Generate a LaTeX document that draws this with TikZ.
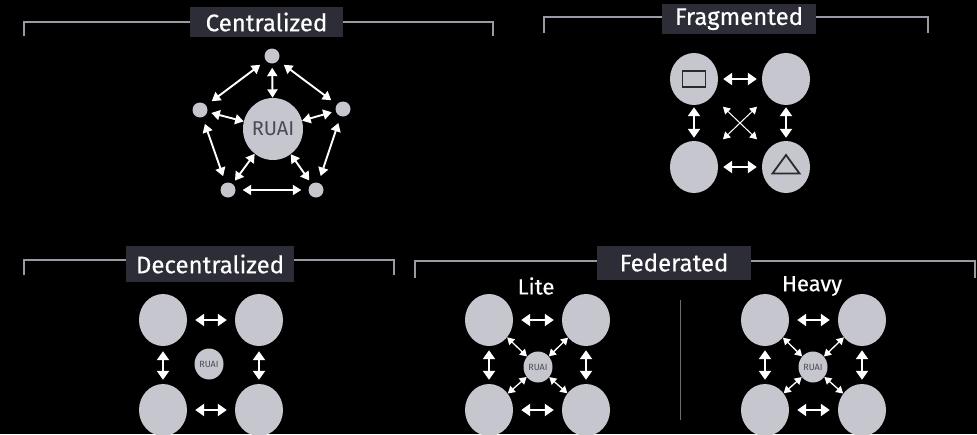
\documentclass[tikz,border=0pt]{standalone}
\usepackage{fontspec}
\setmainfont{Fira Sans}
\newfontfamily\headfont{Fira Sans}[FakeBold=0.4]
\usetikzlibrary{arrows.meta,shapes.geometric}
\definecolor{nodegray}{HTML}{C6C6CE}
\definecolor{tagfill}{HTML}{2D2D38}
\definecolor{rulegray}{HTML}{9A9AA5}
\definecolor{inkdark}{HTML}{2A2A30}
\definecolor{hubtext}{HTML}{4A4A52}
\tikzset{
  bracket/.style={draw=rulegray, line width=1.5pt},
  tag/.style={fill=tagfill, text=white, inner sep=0pt,
    font=\headfont\fontsize{24}{24}\selectfont, minimum height=30pt},
  subtitle/.style={text=white, inner sep=0pt, font=\headfont\fontsize{22}{22}\selectfont},
  peer/.style={ellipse, fill=nodegray, inner sep=0pt, minimum width=48pt, minimum height=52pt},
  dot/.style={circle, fill=nodegray, inner sep=0pt, minimum size=15pt},
  hub/.style={ellipse, fill=nodegray, inner sep=0pt, minimum width=60pt, minimum height=62pt,
    text=hubtext, font=\fontsize{20}{20}\selectfont},
  minihub/.style={ellipse, fill=nodegray, inner sep=0pt, minimum width=29pt, minimum height=31pt,
    text=hubtext, font=\fontsize{9}{9}\selectfont},
  link/.style={draw=white, line width=2.4pt,
    {Triangle[length=9pt,width=12pt]}-{Triangle[length=9pt,width=12pt]}},
  clink/.style={draw=white, line width=1.9pt,
    {Triangle[length=8.5pt,width=10pt]}-{Triangle[length=8.5pt,width=10pt]}},
  thinlink/.style={draw=white, line width=1.3pt,
    {Triangle[length=7pt,width=8pt]}-{Triangle[length=7pt,width=8pt]}},
  glyph/.style={draw=inkdark, line width=1.8pt},
  divider/.style={draw=rulegray!70!black, line width=1pt},
}
\begin{document}
\begin{tikzpicture}[x=1pt,y=-1pt]
  \fill[black] (0,0) rectangle (977,434);
  \useasboundingbox (0,0) rectangle (977,434);
  \clip (0,0) rectangle (977,434);

  % ---------- Centralized ----------
  \draw[bracket] (24,36) -- (24,22) -- (493,22) -- (493,36);
  \node[tag, minimum width=153pt] (t-cen) at (266.5,22) {Centralized};

  \node[hub] (c-hub) at (273,129) {RUAI};
  \node[dot] (c-n1) at (272,56) {};
  \node[dot] (c-n2) at (343,109) {};
  \node[dot] (c-n3) at (316,190) {};
  \node[dot] (c-n4) at (228,190) {};
  \node[dot] (c-n5) at (200,110) {};

  \foreach \a/\b in {c-n1/c-n2, c-n2/c-n3, c-n3/c-n4, c-n4/c-n5, c-n5/c-n1}
    \draw[clink, shorten <=7pt, shorten >=7pt] (\a) -- (\b);
  \foreach \a in {c-n1, c-n2, c-n3, c-n4, c-n5}
    \draw[clink, shorten <=4pt] (\a) -- (c-hub);

  % ---------- Fragmented ----------
  \draw[bracket] (544,33) -- (544,17) -- (928,17) -- (928,33);
  \node[tag, minimum width=154pt] (t-frag) at (739,18.5) {Fragmented};

  \node[peer] (f-a) at (694,79) {};
  \node[peer] (f-b) at (786,79) {};
  \node[peer] (f-c) at (694,167) {};
  \node[peer] (f-d) at (786,167) {};
  \node[glyph, rectangle, inner sep=0pt, minimum width=23pt, minimum height=16pt] (f-sq) at (f-a) {};
  \draw[glyph, line join=miter] (772.5,173.5) -- (786,155) -- (799.5,173.5) -- cycle;

  \draw[link, shorten <=5pt, shorten >=5pt] (f-a) -- (f-b);
  \draw[link, shorten <=5pt, shorten >=5pt] (f-c) -- (f-d);
  \draw[link, shorten <=2pt, shorten >=3pt] (f-a) -- (f-c);
  \draw[link, shorten <=2pt, shorten >=3pt] (f-b) -- (f-d);
  \draw[thinlink, line width=1pt, shorten <=15pt, shorten >=15pt] (f-a) -- (f-d);
  \draw[thinlink, line width=1pt, shorten <=15pt, shorten >=15pt] (f-b) -- (f-c);

  % ---------- Decentralized ----------
  \draw[bracket] (24,275) -- (24,260) -- (394,260) -- (394,275);
  \node[tag, minimum width=168pt, minimum height=36pt] (t-dec) at (210,264) {Decentralized};

  \node[peer] (d-a) at (163,320) {};
  \node[peer] (d-b) at (259,320) {};
  \node[peer] (d-c) at (163,410) {};
  \node[peer] (d-d) at (259,410) {};
  \node[minihub] (d-hub) at (209,364) {RUAI};

  \draw[link, shorten <=8pt, shorten >=8pt] (d-a) -- (d-b);
  \draw[link, shorten <=8pt, shorten >=8pt] (d-c) -- (d-d);
  \draw[link, shorten <=5pt, shorten >=4pt] (d-a) -- (d-c);
  \draw[link, shorten <=5pt, shorten >=4pt] (d-b) -- (d-d);

  % ---------- Federated ----------
  \draw[bracket] (415,278) -- (415,261) -- (975,261) -- (975,278);
  \node[tag, minimum width=154pt, minimum height=34pt] (t-fed) at (674,262.5) {Federated};

  \node[subtitle] (t-lite) at (536,286) {Lite};
  \node[subtitle] (t-heavy) at (812,286) {Heavy};
  \draw[divider] (680,300) -- (680,420);

  % Lite
  \node[peer] (l-a) at (489,320) {};
  \node[peer] (l-b) at (586,320) {};
  \node[peer] (l-c) at (489,410) {};
  \node[peer] (l-d) at (586,410) {};
  \node[minihub] (l-hub) at (538,367) {RUAI};

  \draw[link, shorten <=8pt, shorten >=8pt] (l-a) -- (l-b);
  \draw[link, shorten <=8pt, shorten >=8pt] (l-c) -- (l-d);
  \draw[link, shorten <=4pt, shorten >=4pt] (l-a) -- (l-c);
  \draw[link, shorten <=4pt, shorten >=4pt] (l-b) -- (l-d);
  \foreach \p in {l-a, l-b, l-c, l-d}
    \draw[thinlink] (\p) -- (l-hub);

  % Heavy
  \node[peer] (h-a) at (765,320) {};
  \node[peer] (h-b) at (862,320) {};
  \node[peer] (h-c) at (765,410) {};
  \node[peer] (h-d) at (862,410) {};
  \node[minihub] (h-hub) at (813,367) {RUAI};

  \draw[link, shorten <=8pt, shorten >=8pt] (h-a) -- (h-b);
  \draw[link, shorten <=8pt, shorten >=8pt] (h-c) -- (h-d);
  \draw[link, shorten <=4pt, shorten >=4pt] (h-a) -- (h-c);
  \draw[link, shorten <=4pt, shorten >=4pt] (h-b) -- (h-d);
  \foreach \p in {h-a, h-b, h-c, h-d}
    \draw[thinlink] (\p) -- (h-hub);
\end{tikzpicture}
\end{document}
